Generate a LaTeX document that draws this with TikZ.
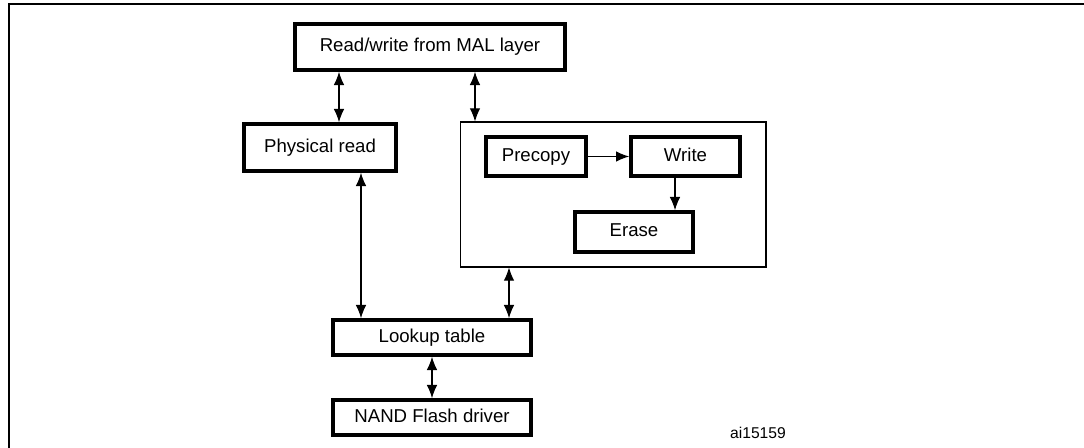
\documentclass[tikz,border=0pt]{standalone}
\usepackage{fontspec}
\setmainfont{Liberation Sans}
\usetikzlibrary{arrows.meta}

\begin{document}
\begin{tikzpicture}[
		x=0.02cm, y=-0.02cm,
		every node/.style={rectangle, draw, line width=2.1pt, inner sep=0pt, text height=0.72em, text depth=0.2em, font=\fontsize{10.6}{12}\selectfont},
		tip/.style={-{Latex[length=7.5pt,width=6pt]}},
		both/.style={{Latex[length=7.5pt,width=6pt]}-{Latex[length=7.5pt,width=6pt]}},
		conn/.style={line width=0.6pt}
	]
  \useasboundingbox (0,0) rectangle (1084,448);
  \draw[line width=1.2pt] (9,452) -- (9,4) -- (1088,4);
  \node (rw) [minimum width=5.4cm, minimum height=0.92cm] at (430,47) {Read/write from MAL layer};
  \node (phys) [minimum width=3.04cm, minimum height=0.94cm] at (320,147.5) {Physical read};
  \node (ops) [line width=0.6pt, minimum width=6.12cm, minimum height=2.9cm] at (613,194.5) {};
  \node (pre) [minimum width=2cm, minimum height=0.78cm] at (536,156.5) {Precopy};
  \node (wr) [minimum width=2.18cm, minimum height=0.78cm] at (685.5,156.5) {Write};
  \node (er) [minimum width=2.36cm, minimum height=0.8cm] at (634,232) {Erase};
  \node (lut) [minimum width=3.96cm, minimum height=0.7cm] at (432,337.5) {Lookup table};
  \node (nand) [minimum width=3.96cm, minimum height=0.7cm] at (432,417.5) {NAND Flash driver};
  \node (ref) [draw=none, font=\fontsize{8.9}{10}\selectfont] at (758,434) {ai15159};
  \coordinate (x_rp) at (339,0);
  \coordinate (x_ro) at (475,0);
  \coordinate (x_pl) at (361,0);
  \coordinate (x_ol) at (509,0);
  \coordinate (x_we) at (675,0);
  \draw[conn] (rw.south -| x_rp) edge[both] (phys.north -| x_rp);
  \draw[conn] (rw.south -| x_ro) edge[both] (ops.north -| x_ro);
  \draw[conn] (phys.south -| x_pl) edge[both] (lut.north -| x_pl);
  \draw[conn] (ops.south -| x_ol) edge[both] (lut.north -| x_ol);
  \draw[conn] (lut) edge[both] (nand);
  \draw[conn] (pre) edge[tip] (wr);
  \draw[conn] (wr.south -| x_we) edge[tip] (er.north -| x_we);
\end{tikzpicture}
\end{document}
